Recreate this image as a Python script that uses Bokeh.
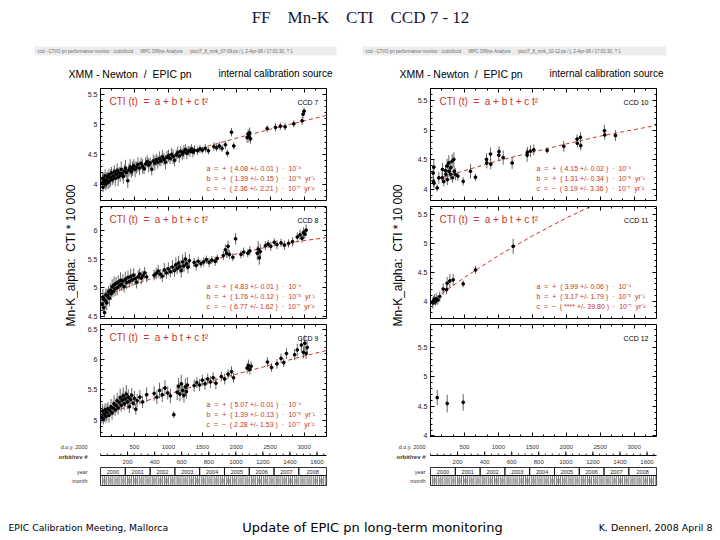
import math
import datetime
from bokeh.plotting import figure
from bokeh.layouts import column, row
from bokeh.models import (Range1d, LinearAxis, FixedTicker, ColumnDataSource,
                          CustomJSTickFormatter, Spacer)
from bokeh.core.properties import value
from bokeh.embed import file_html
from bokeh.resources import INLINE

SANS = "Liberation Sans"
SERIF = "Liberation Serif"
HAND = "DejaVu Sans"
RED = "#c9342c"


def nb(s):
    # keep runs of spaces visible in SVG text
    return s.replace(" ", "\u00a0")


# ---------------- texts ----------------
title_text = "FF    Mn-K    CTI    CCD 7 - 12"
header_left = "ccd - CTI/O pn performance monitor : ccdctl/ccd      MPC Offline Analysis      ptcci7_8_mnk_07-09.ps / j, 2-Apr-08 / 17:01:30, ? 1"
header_right = "ccd - CTI/O pn performance monitor : ccdctl/ccd      MPC Offline Analysis      ptcci7_8_mnk_10-12.ps / j, 2-Apr-08 / 17:01:30, ? 1"
subtitle_a = "XMM - Newton  /  EPIC pn"
subtitle_b = "internal calibration source"
ylabel_text = "Mn-K_alpha:  CTI * 10 000"
formula_text = "CTI (t)  =  a + b t + c t²"
footer_left = "EPIC Calibration Meeting, Mallorca"
footer_mid = "Update of EPIC pn long-term monitoring"
footer_right = "K. Dennerl, 2008 April 8"
row_labels = ["d.o.y. 2000", "orbit/rev #", "year", "month"]

# ---------------- axes ----------------
doy_range = (0, 3330)
rev_range = (0, 1670)
doy_ticks = [500, 1000, 1500, 2000, 2500, 3000]
rev_ticks = [200, 400, 600, 800, 1000, 1200, 1400, 1600]
years = ["2000", "2001", "2002", "2003", "2004", "2005", "2006", "2007", "2008"]
year_start_doy = [0, 366, 731, 1096, 1461, 1827, 2192, 2557, 2922]

# ---------------- data: (d.o.y. 2000, CTI*1e4, error) ----------------
ccd7 = [(20, 4.02, 0.09), (30, 4.10, 0.10), (38, 3.95, 0.08), (48, 4.08, 0.12), (58, 4.04, 0.09),
        (68, 4.14, 0.11), (78, 4.00, 0.10), (90, 4.07, 0.13), (102, 4.12, 0.09), (112, 4.03, 0.11),
        (125, 4.16, 0.10), (138, 4.06, 0.12), (150, 4.11, 0.14), (162, 4.19, 0.10), (175, 4.08, 0.09),
        (190, 4.14, 0.12), (204, 4.21, 0.11), (218, 4.10, 0.13), (232, 4.17, 0.10), (246, 4.23, 0.12),
        (260, 4.12, 0.15), (275, 4.19, 0.10), (290, 4.15, 0.11), (305, 4.25, 0.13), (320, 4.18, 0.10),
        (336, 4.13, 0.12), (352, 4.22, 0.11), (368, 4.27, 0.14), (385, 4.20, 0.10), (402, 4.06, 0.12),
        (420, 4.24, 0.11), (438, 4.29, 0.13), (455, 4.21, 0.10), (472, 4.26, 0.12), (490, 4.31, 0.11),
        (510, 4.25, 0.13), (530, 4.28, 0.10), (552, 4.33, 0.12), (575, 4.27, 0.11), (598, 4.35, 0.10),
        (620, 4.30, 0.12), (642, 4.26, 0.09), (665, 4.34, 0.11), (688, 4.38, 0.10), (710, 4.32, 0.12),
        (732, 4.36, 0.09), (755, 4.25, 0.10), (778, 4.39, 0.11), (800, 4.35, 0.12), (822, 4.41, 0.10),
        (845, 4.37, 0.11), (868, 4.43, 0.12), (890, 4.39, 0.09), (912, 4.46, 0.11), (935, 4.42, 0.10),
        (958, 4.37, 0.12), (980, 4.45, 0.11), (1002, 4.48, 0.10), (1025, 4.43, 0.09), (1048, 4.50, 0.11),
        (1070, 4.46, 0.12), (1092, 4.40, 0.10), (1115, 4.49, 0.09), (1138, 4.53, 0.10), (1160, 4.47, 0.11),
        (1182, 4.55, 0.09), (1205, 4.50, 0.10), (1228, 4.54, 0.11), (1250, 4.58, 0.09), (1272, 4.52, 0.10),
        (1295, 4.56, 0.08), (1318, 4.55, 0.09), (1340, 4.59, 0.08), (1362, 4.54, 0.09), (1385, 4.57, 0.08),
        (1430, 4.56, 0.07), (1465, 4.59, 0.07), (1500, 4.57, 0.06), (1545, 4.60, 0.07), (1590, 4.56, 0.06),
        (1670, 4.63, 0.07), (1710, 4.61, 0.06), (1750, 4.64, 0.07), (1790, 4.60, 0.06), (1840, 4.66, 0.07),
        (1870, 4.52, 0.06), (1930, 4.87, 0.07), (1964, 4.64, 0.06), (2160, 4.78, 0.09), (2175, 4.84, 0.08),
        (2188, 4.80, 0.10), (2198, 4.86, 0.09), (2210, 4.76, 0.08), (2455, 4.93, 0.06), (2578, 4.95, 0.07),
        (2650, 4.97, 0.06), (2720, 4.96, 0.06), (2848, 5.01, 0.06), (2971, 5.06, 0.07), (2985, 5.17, 0.07),
        (3000, 5.22, 0.06)]

ccd8 = [(25, 4.72, 0.12), (35, 4.84, 0.14), (45, 4.66, 0.10), (52, 4.80, 0.12), (60, 4.57, 0.08),
        (70, 4.78, 0.15), (80, 4.88, 0.11), (92, 4.74, 0.13), (105, 4.86, 0.12), (118, 4.93, 0.10),
        (130, 4.82, 0.14), (145, 4.96, 0.12), (158, 4.90, 0.11), (172, 5.02, 0.13), (186, 4.94, 0.10),
        (200, 5.05, 0.15), (215, 4.98, 0.12), (230, 5.08, 0.11), (245, 5.00, 0.13), (262, 5.10, 0.12),
        (278, 5.04, 0.10), (295, 5.13, 0.14), (312, 5.06, 0.11), (330, 5.12, 0.12), (348, 5.02, 0.10),
        (366, 5.15, 0.13), (385, 5.09, 0.11), (405, 5.18, 0.12), (425, 5.11, 0.10), (445, 5.20, 0.13),
        (465, 5.14, 0.11), (488, 5.22, 0.12), (510, 5.16, 0.10), (532, 5.10, 0.11), (555, 5.19, 0.12),
        (578, 5.24, 0.10), (600, 5.17, 0.11), (625, 5.21, 0.09), (650, 5.26, 0.10), (680, 5.19, 0.09),
        (790, 5.22, 0.09), (820, 5.25, 0.10), (850, 5.29, 0.11), (880, 5.24, 0.09), (910, 5.20, 0.10),
        (940, 5.31, 0.12), (970, 5.26, 0.10), (1000, 5.33, 0.11), (1030, 5.28, 0.10), (1060, 5.36, 0.12),
        (1090, 5.30, 0.11), (1110, 5.40, 0.13), (1130, 5.34, 0.10), (1150, 5.43, 0.12), (1170, 5.37, 0.11),
        (1190, 5.30, 0.12), (1210, 5.45, 0.13), (1230, 5.38, 0.11), (1250, 5.50, 0.12), (1270, 5.42, 0.10),
        (1290, 5.36, 0.11), (1310, 5.47, 0.12), (1380, 5.44, 0.08), (1410, 5.39, 0.09), (1440, 5.46, 0.08),
        (1480, 5.42, 0.07), (1520, 5.45, 0.08), (1560, 5.49, 0.07), (1600, 5.44, 0.08), (1640, 5.48, 0.07),
        (1690, 5.46, 0.08), (1720, 5.51, 0.07), (1810, 5.56, 0.08), (1840, 5.66, 0.09), (1860, 5.60, 0.08),
        (1880, 5.72, 0.10), (1900, 5.58, 0.08), (1950, 5.53, 0.07), (1990, 5.85, 0.10), (2070, 5.58, 0.07),
        (2110, 5.62, 0.08), (2170, 5.60, 0.07), (2200, 5.64, 0.08), (2310, 5.60, 0.12), (2325, 5.67, 0.14),
        (2340, 5.52, 0.12), (2355, 5.63, 0.13), (2430, 5.73, 0.08), (2470, 5.76, 0.07), (2510, 5.72, 0.08),
        (2560, 5.79, 0.07), (2600, 5.75, 0.08), (2660, 5.78, 0.07), (2710, 5.74, 0.08), (2770, 5.77, 0.07),
        (2830, 5.80, 0.08), (2900, 5.88, 0.08), (2940, 5.92, 0.09), (2970, 5.86, 0.08), (2990, 5.96, 0.09),
        (3010, 5.93, 0.08), (3030, 6.00, 0.10)]

ccd9 = [(20, 5.05, 0.10), (30, 5.15, 0.12), (42, 5.02, 0.09), (55, 5.10, 0.13), (68, 5.17, 0.11),
        (80, 5.06, 0.10), (95, 5.13, 0.14), (110, 5.19, 0.11), (125, 5.08, 0.12), (140, 5.16, 0.10),
        (155, 5.22, 0.13), (170, 5.12, 0.11), (185, 5.20, 0.12), (200, 5.27, 0.14), (215, 5.17, 0.10),
        (230, 5.24, 0.12), (245, 5.32, 0.13), (260, 5.20, 0.11), (275, 5.29, 0.12), (290, 5.37, 0.15),
        (305, 5.24, 0.10), (320, 5.33, 0.12), (335, 5.40, 0.14), (350, 5.27, 0.11), (365, 5.35, 0.13),
        (380, 5.43, 0.15), (395, 5.30, 0.12), (410, 5.38, 0.13), (425, 5.22, 0.10), (440, 5.34, 0.11),
        (460, 5.41, 0.12), (480, 5.28, 0.10), (500, 5.36, 0.12), (520, 5.18, 0.09), (540, 5.32, 0.11),
        (580, 5.38, 0.12), (620, 5.30, 0.10), (680, 5.42, 0.12), (790, 5.44, 0.12), (830, 5.38, 0.11),
        (870, 5.49, 0.13), (910, 5.42, 0.12), (950, 5.53, 0.13), (990, 5.45, 0.11), (1030, 5.40, 0.12),
        (1080, 5.09, 0.06), (1130, 5.46, 0.13), (1150, 5.56, 0.14), (1170, 5.43, 0.12), (1190, 5.60, 0.15),
        (1210, 5.49, 0.13), (1230, 5.41, 0.12), (1250, 5.55, 0.14), (1265, 5.47, 0.12), (1280, 5.58, 0.13),
        (1380, 5.57, 0.10), (1420, 5.62, 0.09), (1460, 5.58, 0.10), (1500, 5.66, 0.09), (1540, 5.60, 0.10),
        (1580, 5.68, 0.09), (1620, 5.63, 0.10), (1660, 5.70, 0.09), (1700, 5.61, 0.10), (1780, 5.72, 0.08),
        (1830, 5.68, 0.09), (1880, 5.76, 0.08), (1930, 5.80, 0.09), (1960, 5.70, 0.08), (2160, 5.86, 0.09),
        (2180, 5.90, 0.10), (2200, 5.84, 0.09), (2220, 5.89, 0.08), (2460, 5.96, 0.08), (2520, 5.87, 0.07),
        (2600, 5.93, 0.08), (2660, 6.02, 0.08), (2700, 5.95, 0.07), (2740, 6.10, 0.09), (2860, 6.08, 0.09),
        (2900, 6.16, 0.10), (2960, 6.24, 0.12), (2990, 6.12, 0.10), (3010, 6.27, 0.13), (3030, 6.10, 0.09),
        (3045, 6.20, 0.11)]

ccd10 = [(39, 4.28, 0.10), (44, 4.14, 0.09), (49, 4.38, 0.12), (52, 4.11, 0.08), (98, 4.03, 0.06),
         (123, 4.20, 0.10), (172, 4.20, 0.09), (176, 4.34, 0.11), (196, 4.14, 0.08), (221, 4.32, 0.10),
         (226, 4.26, 0.09), (245, 4.40, 0.12), (249, 4.17, 0.09), (270, 4.45, 0.13), (274, 4.31, 0.10),
         (295, 4.26, 0.09), (299, 4.37, 0.11), (319, 4.48, 0.12), (323, 4.20, 0.08), (344, 4.51, 0.12),
         (348, 4.31, 0.09), (368, 4.26, 0.10), (403, 4.23, 0.08), (481, 4.14, 0.07), (589, 4.31, 0.12),
         (663, 4.21, 0.06), (825, 4.51, 0.10), (830, 4.45, 0.09), (884, 4.60, 0.11), (888, 4.43, 0.09),
         (1006, 4.58, 0.10), (1010, 4.64, 0.09), (1071, 4.54, 0.12), (1203, 4.45, 0.10), (1424, 4.58, 0.11),
         (1428, 4.63, 0.09), (1473, 4.65, 0.10), (1522, 4.67, 0.09), (1719, 4.66, 0.05), (1964, 4.73, 0.09),
         (2160, 4.85, 0.08), (2164, 4.78, 0.07), (2210, 4.88, 0.09), (2214, 4.74, 0.08), (2563, 4.99, 0.10),
         (2567, 4.92, 0.08), (2725, 4.91, 0.09)]

ccd11 = [(34, 3.97, 0.10), (46, 4.01, 0.08), (59, 4.03, 0.09), (72, 3.99, 0.07), (84, 4.04, 0.10),
         (108, 4.02, 0.08), (137, 4.08, 0.09), (187, 4.21, 0.10), (236, 4.20, 0.08), (245, 4.31, 0.11),
         (285, 4.35, 0.12), (334, 4.37, 0.10), (481, 4.30, 0.06), (663, 4.54, 0.07), (1218, 4.95, 0.13)]

ccd12 = [(99, 4.65, 0.13), (246, 4.55, 0.15), (482, 4.57, 0.14)]

# fit curves
fit_days = [0, 500, 1000, 1500, 2000, 2500, 3000, 3330]
fit7 = [4.08, 4.27, 4.44, 4.61, 4.77, 4.92, 5.06, 5.15]
fit8 = [4.83, 5.06, 5.26, 5.44, 5.59, 5.72, 5.82, 5.87]
fit9 = [5.07, 5.26, 5.43, 5.60, 5.76, 5.91, 6.06, 6.15]
fit10 = [4.15, 4.32, 4.49, 4.63, 4.77, 4.90, 5.01, 5.08]
fit11 = [3.99, 4.41, 4.79, 5.13, 5.44, 5.72, 5.95, 6.09]

coef7 = ["a  =  +  ( 4.08 +/- 0.01 )  ·  10⁻⁴", "b  =  +  ( 1.39 +/- 0.15 )  ·  10⁻⁵  yr⁻¹", "c  =  −  ( 2.36 +/- 2.21 )  ·  10⁻⁷  yr⁻²"]
coef8 = ["a  =  +  ( 4.83 +/- 0.01 )  ·  10⁻⁴", "b  =  +  ( 1.76 +/- 0.12 )  ·  10⁻⁵  yr⁻¹", "c  =  −  ( 6.77 +/- 1.62 )  ·  10⁻⁷  yr⁻²"]
coef9 = ["a  =  +  ( 5.07 +/- 0.01 )  ·  10⁻⁴", "b  =  +  ( 1.39 +/- 0.13 )  ·  10⁻⁵  yr⁻¹", "c  =  −  ( 2.28 +/- 1.53 )  ·  10⁻⁷  yr⁻²"]
coef10 = ["a  =  +  ( 4.15 +/- 0.02 )  ·  10⁻⁴", "b  =  +  ( 1.31 +/- 0.34 )  ·  10⁻⁵  yr⁻¹", "c  =  −  ( 3.19 +/- 3.36 )  ·  10⁻⁷  yr⁻²"]
coef11 = ["a  =  +  ( 3.99 +/- 0.06 )  ·  10⁻⁴", "b  =  +  ( 3.17 +/- 1.79 )  ·  10⁻⁵  yr⁻¹", "c  =  −  ( **** +/- 39.80 )  ·  10⁻⁷  yr⁻²"]

ylim7 = (3.73, 5.60)
ylim8 = (4.47, 6.41)
ylim9 = (4.73, 6.58)
ylim10 = (3.82, 5.70)
ylim11 = (3.70, 5.64)
ylim12 = (3.99, 5.89)

# ---------------- helpers ----------------
FRAME_W = 226
FRAME_H = 112
DPP = (doy_range[1] - doy_range[0]) / FRAME_W      # days per pixel
RPP = (rev_range[1] - rev_range[0]) / FRAME_W      # revs per pixel


def blank(w, h, **kw):
    p = figure(width=w, height=h, x_range=Range1d(0, w), y_range=Range1d(h, 0),
               output_backend="svg", toolbar_location=None,
               x_axis_location=None, y_axis_location=None,
               min_border=0, outline_line_color=None, **kw)
    p.grid.visible = False
    return p


def frame_axis(p, place, ticker, show):
    ax = LinearAxis(ticker=ticker)
    ax.axis_line_color = None
    ax.major_tick_in = 4
    ax.major_tick_out = 0
    ax.minor_tick_in = 2
    ax.minor_tick_out = 0
    ax.major_tick_line_color = "black"
    ax.minor_tick_line_color = "black"
    if show:
        ax.formatter = CustomJSTickFormatter(code="return String(Math.round(tick*10)/10)")
        ax.major_label_text_font = SANS
        ax.major_label_text_font_size = "7px"
        ax.major_label_text_color = "#222222"
        ax.major_label_standoff = 3
    else:
        ax.formatter = CustomJSTickFormatter(code="return ''")
        ax.major_label_text_font_size = "0px"
        ax.major_label_standoff = 0
    p.add_layout(ax, place)


def make_panel(name, pts, fit, ylim, coefs, btop, bbot):
    lo, hi = ylim
    p = figure(width=254, height=FRAME_H + btop + bbot, x_range=Range1d(*doy_range), y_range=Range1d(lo, hi),
               output_backend="svg", toolbar_location=None,
               x_axis_location=None, y_axis_location=None,
               min_border_left=22, min_border_right=6, min_border_top=btop, min_border_bottom=bbot)
    p.grid.visible = False
    p.outline_line_color = "black"
    p.outline_line_width = 1
    ymaj = [k / 2 for k in range(math.ceil(lo * 2), math.floor(hi * 2) + 1)]
    ymin = [round(k / 10, 1) for k in range(math.ceil(lo * 10), math.floor(hi * 10) + 1)]
    xmin = [round(k * 500 / 3) for k in range(0, 21) if k * 500 / 3 <= doy_range[1]]
    frame_axis(p, "left", FixedTicker(ticks=ymaj, minor_ticks=ymin), True)
    frame_axis(p, "right", FixedTicker(ticks=ymaj, minor_ticks=ymin), False)
    frame_axis(p, "above", FixedTicker(ticks=[0] + doy_ticks, minor_ticks=xmin), False)
    frame_axis(p, "below", FixedTicker(ticks=[0] + doy_ticks, minor_ticks=xmin), False)

    if fit is not None:
        p.line(fit_days, fit, line_color=RED, line_dash="4 3", line_width=1)

    src = ColumnDataSource(dict(x=[d for d, v, e in pts], y=[v for d, v, e in pts],
                                lo=[v - e for d, v, e in pts], hi=[v + e for d, v, e in pts]))
    p.segment(x0="x", y0="lo", x1="x", y1="hi", source=src, line_color="#555555", line_width=0.9)
    p.scatter(x="x", y="y", source=src, size=2.8, color="black")

    def pos(fx, fy):
        return (doy_range[0] + fx * (doy_range[1] - doy_range[0]), hi - fy * (hi - lo))

    x, y = pos(1 - 8 / FRAME_W, 14 / FRAME_H)
    p.text(x=[x], y=[y], text=[nb(name)], text_font=value(SANS), text_font_size="7px",
           text_color="black", text_align="right", text_baseline="middle")
    if coefs is not None:
        x, y = pos(9 / FRAME_W, 13 / FRAME_H)
        p.text(x=[x], y=[y], text=[nb(formula_text)], text_font=value(SANS), text_font_size="10px",
               text_color=RED, text_align="left", text_baseline="middle")
        for line, fy in zip(coefs, [0.715, 0.805, 0.895]):
            x, y = pos(106 / FRAME_W, fy)
            p.text(x=[x], y=[y], text=[nb(line)], text_font=value(SANS), text_font_size="7px",
                   text_color=RED, text_align="left", text_baseline="middle")
    return p


MID_H = 358


def make_label_fig(w, xpos):
    p = blank(w, MID_H)
    p.text(x=[xpos], y=[173], text=[nb(ylabel_text)], angle=math.pi / 2,
           text_font=value(SANS), text_font_size="12px", text_color="black",
           text_align="center", text_baseline="middle")
    return p


def make_time_axes(w, offset, label_right):
    extra = {
        "day": Range1d(doy_range[0] - offset * DPP, doy_range[1] + (w - offset - FRAME_W) * DPP),
        "rev": Range1d(rev_range[0] - offset * RPP, rev_range[1] + (w - offset - FRAME_W) * RPP),
    }
    p = blank(w, 60, extra_x_ranges=extra)
    tf = value(SANS)
    # d.o.y. tick labels
    p.text(x=doy_ticks, y=[6.5] * len(doy_ticks), text=[str(t) for t in doy_ticks], x_range_name="day",
           text_font=tf, text_font_size="6px", text_color="#333333", text_align="center", text_baseline="middle")
    # orbit axis
    p.segment(x0=[rev_range[0]], y0=[15], x1=[rev_range[1]], y1=[15], x_range_name="rev",
              line_color="black", line_width=1)
    rev_minor = [r for r in range(0, rev_range[1] + 1, 50)]
    p.segment(x0=rev_minor, y0=[15] * len(rev_minor), x1=rev_minor, y1=[13] * len(rev_minor),
              x_range_name="rev", line_color="black", line_width=0.8)
    p.segment(x0=rev_ticks, y0=[15] * len(rev_ticks), x1=rev_ticks, y1=[11] * len(rev_ticks),
              x_range_name="rev", line_color="black", line_width=1)
    p.text(x=rev_ticks, y=[21.5] * len(rev_ticks), text=[str(r) for r in rev_ticks], x_range_name="rev",
           text_font=tf, text_font_size="6px", text_color="#333333", text_align="center", text_baseline="middle")
    # year row
    year_end = year_start_doy[1:] + [doy_range[1]]
    p.quad(left=year_start_doy, right=year_end, top=[27] * len(years), bottom=[35] * len(years),
           x_range_name="day", fill_color=None, line_color="black", line_width=0.8)
    p.text(x=[(a + b) / 2 for a, b in zip(year_start_doy, year_end)], y=[31.2] * len(years), text=years,
           x_range_name="day", text_font=tf, text_font_size="5.5px", text_color="#222222",
           text_align="center", text_baseline="middle")
    # month row
    p.quad(left=[doy_range[0]], right=[doy_range[1]], top=[35], bottom=[45], x_range_name="day",
           fill_color=None, line_color="black", line_width=0.8)
    base = datetime.date(2000, 1, 1)
    months = []
    for yy in range(2000, 2010):
        for mm in range(1, 13):
            d = (datetime.date(yy, mm, 1) - base).days
            if doy_range[0] < d < doy_range[1]:
                months.append((d, mm))
    mx = [d for d, m in months]
    p.segment(x0=mx, y0=[35] * len(mx), x1=mx, y1=[45] * len(mx), x_range_name="day",
              line_color="#222222", line_width=0.6)
    mid = [d + 15 for d, m in months if m % 3 != 1]
    p.segment(x0=mid, y0=[38] * len(mid), x1=mid, y1=[43] * len(mid), x_range_name="day",
              line_color="#777777", line_width=0.6)
    # row labels
    p.text(x=[label_right] * 4, y=[6.5, 16.5, 31.5, 40.5], text=[nb(s) for s in row_labels],
           text_font=tf, text_font_size=["5.5px", "6px", "5.5px", "5.5px"], text_color="#333333",
           text_font_style=["normal", "bold", "normal", "normal"],
           text_align="right", text_baseline="middle")
    return p


# ---------------- top ----------------
top = blank(720, 82)
top.text(x=[360], y=[17], text=[nb(title_text)], text_font=value(SERIF), text_font_size="17px",
         text_color="#17173a", text_align="center", text_baseline="middle")
top.quad(left=[34, 362], right=[336, 666], top=[46, 46], bottom=[55, 55],
         fill_color="#ededed", line_color=None)
top.text(x=[37, 365], y=[50.5, 50.5], text=[nb(header_left), nb(header_right)], text_font=value(SANS),
         text_font_size="4.5px", text_color="#6a6a6a", text_align="left", text_baseline="middle")
top.text(x=[68, 399], y=[73, 73], text=[nb(subtitle_a), nb(subtitle_a)], text_font=value(SANS),
         text_font_size="10.5px", text_color="black", text_align="left", text_baseline="middle")
top.text(x=[218, 549], y=[73, 73], text=[nb(subtitle_b), nb(subtitle_b)], text_font=value(SANS),
         text_font_size="10px", text_color="black", text_align="left", text_baseline="middle")

# ---------------- panels ----------------
p7 = make_panel("CCD 7", ccd7, fit7, ylim7, coef7, 6, 3)
p8 = make_panel("CCD 8", ccd8, fit8, ylim8, coef8, 3, 3)
p9 = make_panel("CCD 9", ccd9, fit9, ylim9, coef9, 3, 4)
p10 = make_panel("CCD 10", ccd10, fit10, ylim10, coef10, 6, 3)
p11 = make_panel("CCD 11", ccd11, fit11, ylim11, coef11, 3, 3)
p12 = make_panel("CCD 12", ccd12, None, ylim12, None, 3, 4)

lab_left = make_label_fig(78, 70)
lab_right = make_label_fig(76, 65)

mid = row(lab_left, column(p7, p8, p9), lab_right, column(p10, p11, p12), Spacer(width=58, height=MID_H))

axes_left = make_time_axes(332, 100, 87)
axes_right = make_time_axes(388, 98, 93)
bottom_axes = row(axes_left, axes_right)

# ---------------- footer ----------------
foot = blank(720, 40)
foot.text(x=[8], y=[27], text=[nb(footer_left)], text_font=value(HAND), text_font_size="9.3px",
          text_color="black", text_align="left", text_baseline="middle")
foot.text(x=[372], y=[27], text=[nb(footer_mid)], text_font=value(HAND), text_font_size="13px",
          text_color="black", text_align="center", text_baseline="middle")
foot.text(x=[712], y=[27], text=[nb(footer_right)], text_font=value(HAND), text_font_size="9.5px",
          text_color="black", text_align="right", text_baseline="middle")

layout = column(top, mid, bottom_axes, foot)

open("out.html", "w").write(file_html(layout, INLINE))
